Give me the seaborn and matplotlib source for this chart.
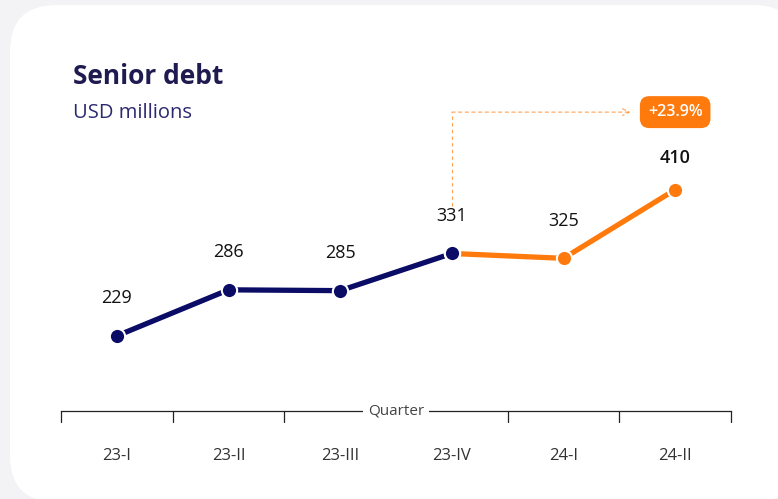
import matplotlib
matplotlib.use("Agg")
import matplotlib.pyplot as plt
import seaborn as sns
import pandas as pd
from matplotlib.patches import FancyBboxPatch

# --- DATA ---
quarters = ["23-I", "23-II", "23-III", "23-IV", "24-I", "24-II"]
debt = [229, 286, 285, 331, 325, 410]
change_label = "+23.9%"

NAVY = "#0b0c66"
ORANGE = "#ff7a0d"
W, H = 778, 499

sns.set_theme(style="white")
plt.rcParams["font.family"] = ["Open Sans", "DejaVu Sans"]

fig = plt.figure(figsize=(W / 100, H / 100), dpi=100)
fig.patch.set_facecolor("#f3f3f5")

# white rounded card behind everything
card = FancyBboxPatch((10 / W, 1 - 502 / H), 790 / W, 497 / H,
                      boxstyle="round,pad=0,rounding_size=0.06",
                      transform=fig.transFigure, facecolor="white",
                      edgecolor="none", mutation_aspect=W / H, zorder=-5)
fig.patches.append(card)

ax = fig.add_axes([61 / W, 1 - 411 / H, 670 / W, 311 / H])
ax.set_facecolor("none")

df = pd.DataFrame({"quarter": quarters, "debt": debt, "x": range(len(quarters))})
first = df.iloc[:4]
second = df.iloc[3:]

sns.lineplot(data=first, x="x", y="debt", color=NAVY, linewidth=3.8, ax=ax,
             marker="o", markersize=11, markeredgecolor="white", markeredgewidth=1.5)
sns.lineplot(data=second, x="x", y="debt", color=ORANGE, linewidth=3.8, ax=ax,
             marker="o", markersize=11, markeredgecolor="white", markeredgewidth=1.5)
# redraw the 23-IV point in navy on top
ax.plot(first["x"].iloc[-1], first["debt"].iloc[-1], "o", color=NAVY, markersize=11,
        markeredgecolor="white", markeredgewidth=1.5, zorder=5)

for i, v in enumerate(debt):
    last = i == len(debt) - 1
    ax.annotate(str(v), (i, v), xytext=(0, 23 if last else 27), textcoords="offset points",
                ha="center", va="center", fontsize=13,
                fontweight="semibold" if last else "normal", color="#111111")

ax.set_xlim(-0.5, len(quarters) - 0.5)
ax.set_ylim(136, 521)
ax.set_yticks([])
ax.set_xticks([])
ax.set_xlabel("")
ax.set_ylabel("")
for s in ["top", "left", "right"]:
    ax.spines[s].set_visible(False)
ax.spines["bottom"].set_color("#222222")
ax.spines["bottom"].set_linewidth(0.9)

# boundary ticks below the axis line
for b in [i - 0.5 for i in range(len(quarters) + 1)]:
    ax.plot([b, b], [0, -0.035], transform=ax.get_xaxis_transform(),
            color="#222222", lw=0.9, clip_on=False, zorder=2)
for i, q in enumerate(quarters):
    ax.text(i, -0.145, q, transform=ax.get_xaxis_transform(), ha="center",
            va="center", fontsize=12, color="#333333")
ax.text(2.5, 0, "Quarter", transform=ax.get_xaxis_transform(), ha="center",
        va="center", fontsize=11, color="#444444", zorder=6,
        bbox=dict(boxstyle="square,pad=0.3", fc="white", ec="none"))

# change annotation: dashed elbow from 23-IV to the badge
ax.plot([3, 3], [390, 506], color=ORANGE, lw=0.8, ls=(0, (3, 3)), alpha=0.7)
ax.annotate("", xy=(4.6, 506), xytext=(3, 506),
            arrowprops=dict(arrowstyle="->", color=ORANGE, lw=0.8, ls=(0, (3, 3)),
                            alpha=0.7, shrinkA=0, shrinkB=0))
ax.text(5.0, 506, change_label, ha="center", va="center", fontsize=11.5,
        fontweight="semibold", color="white", clip_on=False,
        bbox=dict(boxstyle="round,pad=0.5,rounding_size=0.6", fc=ORANGE, ec="none"))

fig.text(73 / W, 1 - 76 / H, "Senior debt", fontsize=19, fontweight="bold",
         color="#1f1a4f", va="center")
fig.text(73 / W, 1 - 113 / H, "USD millions", fontsize=14.5, color="#2b2870", va="center")

fig.savefig("out.png", dpi=100, facecolor=fig.get_facecolor())
